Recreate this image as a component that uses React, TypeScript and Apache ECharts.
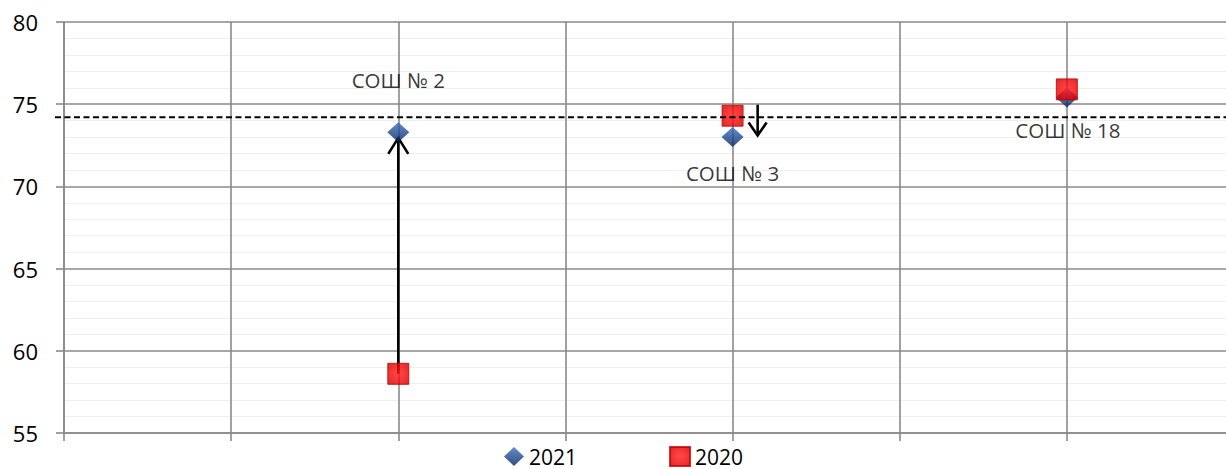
import React, { useEffect, useRef } from "react";
import * as echarts from "echarts";

// ---- data ----
const positions = [2, 4, 6];
const schoolNames = ["СОШ № 2", "СОШ № 3", "СОШ № 18"];
const values2021 = [73.3, 73.0, 75.4];
const values2020 = [58.6, 74.3, 75.9];
const referenceLevel = 74.2;
// arrows: [x, from, to]
const arrows = [
  [2, 58.6, 72.95],
  [4.15, 74.97, 73.1],
];
const yTicks = { min: 55, max: 80, step: 5 };
const xRange = { min: 0, max: 7, step: 1 };

// ---- styles (not data) ----
const labelOffsets = [
  [0, -52],
  [0, 36],
  [1, 32],
];
const FONT = "Open Sans, Liberation Sans, sans-serif";

export default function App() {
  const ref = useRef<HTMLDivElement>(null);
  useEffect(() => {
    const chart = echarts.init(ref.current!, null, { renderer: "svg" });
    const gridColor = "#8a8a8a";
    const option: any = {
      animation: false,
      backgroundColor: "#ffffff",
      grid: { left: 64, right: 0, top: 22, bottom: 36 },
      legend: {
        left: 504,
        top: 446,
        padding: 0,
        itemWidth: 20,
        itemHeight: 19,
        itemGap: 92,
        textStyle: { fontSize: 21, lineHeight: 21, color: "#000", fontFamily: FONT },
        data: [
          { name: "2021", icon: "diamond" },
          { name: "2020", icon: "rect" },
        ],
      },
      xAxis: {
        type: "value",
        min: xRange.min,
        max: xRange.max,
        interval: xRange.step,
        axisLabel: { show: false },
        axisLine: { show: true, lineStyle: { color: gridColor, width: 1.6 } },
        axisTick: { show: true, length: 8, lineStyle: { color: gridColor, width: 1.6 } },
        splitLine: { show: true, lineStyle: { color: gridColor, width: 1.6 } },
      },
      yAxis: {
        type: "value",
        min: yTicks.min,
        max: yTicks.max,
        interval: yTicks.step,
        axisLabel: {
          fontSize: 22,
          color: "#000",
          fontFamily: FONT,
          margin: 26,
        },
        axisLine: { show: true, lineStyle: { color: gridColor, width: 1.6 } },
        axisTick: { show: true, length: 8, lineStyle: { color: gridColor, width: 1.6 } },
        splitLine: { show: true, lineStyle: { color: gridColor, width: 1.6 } },
        minorTick: { show: false, splitNumber: 5 },
        minorSplitLine: { show: true, lineStyle: { color: "#efefef", width: 1 } },
      },
      series: [
        {
          type: "custom",
          name: "ref",
          z: 3,
          silent: true,
          data: [[referenceLevel]],
          renderItem: (params: any, api: any) => {
            const y = api.value(0);
            const p1 = api.coord([-0.054, y]);
            const p2 = api.coord([xRange.max, y]);
            return {
              type: "line",
              shape: { x1: p1[0], y1: p1[1], x2: p2[0], y2: p2[1] },
              style: { stroke: "#000", lineWidth: 2, lineDash: [6, 3.5] },
            };
          },
        },
        {
          type: "custom",
          name: "arrows",
          z: 1,
          silent: true,
          data: arrows,
          renderItem: (params: any, api: any) => {
            const x = api.value(0);
            const a = api.coord([x, api.value(1)]);
            const b = api.coord([x, api.value(2)]);
            const dir = b[1] < a[1] ? 1 : -1; // 1 = arrow pointing up
            const hw = params.dataIndex === 0 ? 10 : 9;
            const hh = params.dataIndex === 0 ? 16 : 13;
            return {
              type: "group",
              children: [
                {
                  type: "line",
                  shape: { x1: a[0], y1: a[1], x2: b[0], y2: b[1] },
                  style: { stroke: "#000", lineWidth: 2.6 },
                },
                {
                  type: "polyline",
                  shape: {
                    points: [
                      [b[0] - hw, b[1] + dir * hh],
                      [b[0], b[1]],
                      [b[0] + hw, b[1] + dir * hh],
                    ],
                  },
                  style: { stroke: "#000", lineWidth: 2.6, fill: "none" },
                },
              ],
            };
          },
        },
        {
          type: "scatter",
          name: "2021",
          z: 2,
          symbol: "diamond",
          symbolSize: [22, 20],
          itemStyle: {
            color: new echarts.graphic.LinearGradient(0, 0, 0, 1, [
              { offset: 0, color: "#3a70c4" },
              { offset: 0.5, color: "#1d4790" },
              { offset: 1, color: "#0a2152" },
            ]),
          },
          data: positions.map((x, i) => ({
            value: [x, values2021[i]],
            label: {
              show: true,
              formatter: schoolNames[i],
              position: "inside",
              offset: labelOffsets[i],
              color: "#000",
              fontSize: 20.5,
              fontFamily: FONT,
            },
          })),
        },
        {
          type: "scatter",
          name: "2020",
          z: 2,
          symbol: "rect",
          symbolSize: 21,
          itemStyle: {
            color: new echarts.graphic.RadialGradient(0.5, 0.5, 0.7, [
              { offset: 0, color: "#ff1a1a" },
              { offset: 0.6, color: "#f00000" },
              { offset: 1, color: "#b30000" },
            ]),
            borderColor: "#c00000",
            borderWidth: 1,
          },
          data: positions.map((x, i) => [x, values2020[i]]),
        },
      ],
    };
    chart.setOption(option);
    return () => chart.dispose();
  }, []);
  return (
    <div
      ref={ref}
      style={{ position: "fixed", left: 0, top: 0, width: 1234, height: 469 }}
    />
  );
}
